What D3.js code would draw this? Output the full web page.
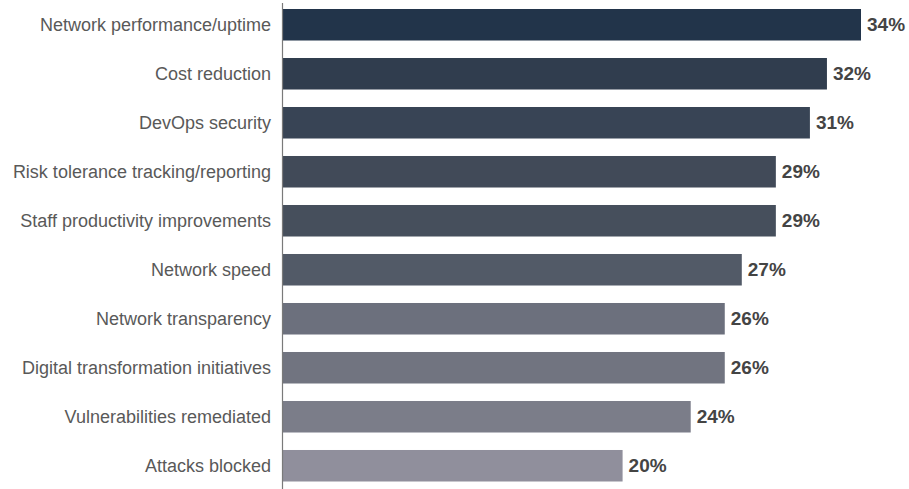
<!DOCTYPE html>
<html>
<head>
<meta charset="utf-8">
<script src="https://cdn.jsdelivr.net/npm/d3@7"></script>
<style>
  html, body { margin: 0; padding: 0; background: #ffffff; }
  svg { display: block; }
  text { font-family: "Liberation Sans", Arial, Helvetica, sans-serif; }
</style>
</head>
<body>
<svg id="chart" width="909" height="489"></svg>
<script>
// Share of respondents by benefit area
const categories = [
  "Network performance/uptime",
  "Cost reduction",
  "DevOps security",
  "Risk tolerance tracking/reporting",
  "Staff productivity improvements",
  "Network speed",
  "Network transparency",
  "Digital transformation initiatives",
  "Vulnerabilities remediated",
  "Attacks blocked"
];
const values = [34, 32, 31, 29, 29, 27, 26, 26, 24, 20];
const barColors = [
  "#22344a", "#303d4e", "#384455", "#414a58", "#464f5c",
  "#525a67", "#6c707d", "#717480", "#7b7d89", "#908f9c"
];

const svg = d3.select("#chart");
const x0 = 282, x34 = 861;

const x = d3.scaleLinear().domain([0, 34]).range([x0, x34]);
const y = d3.scaleBand()
  .domain(categories)
  .range([9, 481.5])
  .paddingInner(0.357)
  .paddingOuter(0);

svg.selectAll("rect.bar")
  .data(categories)
  .join("rect")
  .attr("class", "bar")
  .attr("x", x(0))
  .attr("y", d => y(d))
  .attr("width", (d, i) => x(values[i]) - x(0))
  .attr("height", y.bandwidth())
  .attr("fill", (d, i) => barColors[i]);

// Category axis on the left
const axis = svg.append("g")
  .attr("transform", `translate(${x0 + 0.5},0)`)
  .call(d3.axisLeft(y).tickSize(0).tickPadding(11.5));
axis.select(".domain").remove();
axis.selectAll("text")
  .attr("font-size", "18px")
  .attr("fill", "#595959")
  .style("font-family", "'Liberation Sans', Arial, sans-serif");

svg.append("line")
  .attr("x1", x0 + 0.5).attr("x2", x0 + 0.5)
  .attr("y1", 3).attr("y2", 489)
  .attr("stroke", "#7a7a7a")
  .attr("stroke-width", 1.2);

// Value labels
svg.selectAll("text.val")
  .data(categories)
  .join("text")
  .attr("class", "val")
  .attr("x", (d, i) => x(values[i]) + 6)
  .attr("y", d => y(d) + y.bandwidth() / 2)
  .attr("dy", "0.35em")
  .attr("font-size", "19px")
  .attr("font-weight", "bold")
  .attr("fill", "#444444")
  .text((d, i) => values[i] + "%");
</script>
</body>
</html>
